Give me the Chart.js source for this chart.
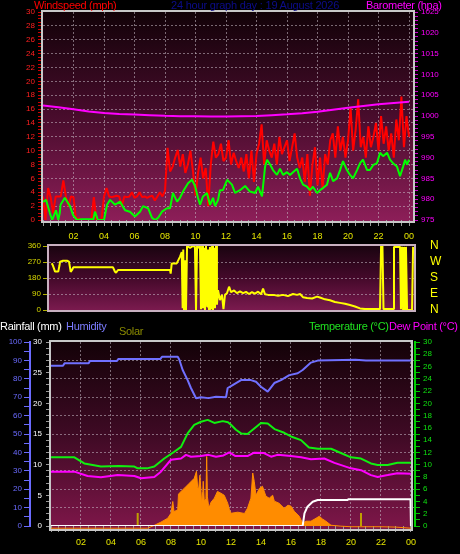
<!DOCTYPE html>
<html><head><meta charset="utf-8">
<script src="https://cdn.jsdelivr.net/npm/chart.js@4.4.0/dist/chart.umd.min.js"></script>
<style>
html,body{margin:0;padding:0;background:#000;width:460px;height:554px;overflow:hidden;}
canvas{position:absolute;left:0;}
.t{position:absolute;font-family:"Liberation Sans",Arial,sans-serif;font-size:11px;line-height:11px;white-space:nowrap;letter-spacing:-0.3px;z-index:5}
</style></head><body>
<canvas id="c1" width="460" height="244" style="top:0px"></canvas>
<canvas id="c2" width="460" height="90" style="top:232px"></canvas>
<canvas id="c3" width="460" height="238" style="top:316px"></canvas>
<div class="t" style="left:34px;top:0px;color:#ff0000">Windspeed (mph)</div>
<div class="t" style="left:171px;top:0px;color:#0c0c8a;letter-spacing:-0.2px">24 hour graph day : 19 August 2026</div>
<div class="t" style="left:366px;top:0px;color:#ff00ff">Barometer (hpa)</div>
<div class="t" style="left:0px;top:321px;color:#ffffff">Rainfall (mm)</div>
<div class="t" style="left:66px;top:321px;color:#7c7cff">Humidity</div>
<div class="t" style="left:119px;top:326px;color:#8a8a00">Solar</div>
<div class="t" style="left:309px;top:321px;color:#20e020">Temperature (°C)</div>
<div class="t" style="left:389px;top:321px;color:#ff00ff">Dew Point (°C)</div>
<script>
// ---------- DATA ----------
// Gust wind speed (mph), one value every 10 minutes from 00:00 to 24:00
const gustSpeed = [
 3.4,0,4.6,3.3,1.0,3.4,
 3.4,3.4,5.7,3.4,2.0,3.4,
 3.3,0,0.3,0,0,0,
 0,0,3.3,0,0,0,
 3.4,4.6,3.4,3.3,3.4,3.5,
 3.4,2.0,3.4,3.3,3.4,4.0,
 3.2,3.4,4.0,3.3,3.4,3.2,
 3.4,3.5,2.8,3.4,4.0,3.4,
 4.2,10.4,7.0,7.7,9.0,10.1,
 7.7,9.5,6.8,8.0,10.0,7.0,
 3.5,6.8,9.0,6.0,7.5,2.0,
 8.0,11.3,9.0,9.5,11.0,8.5,
 9.0,11.5,8.0,9.7,8.5,7.5,
 9.0,7.0,9.5,6.0,10.0,5.5,
 9.5,11.0,13.8,8.0,11.5,10.0,
 9.0,11.0,8.0,12.0,9.5,10.5,
 11.5,8.5,10.5,12.5,9.0,7.5,
 9.0,5.5,9.5,3.5,8.0,10.5,
 5.0,9.0,4.5,9.5,8.0,11.5,
 12.5,9.0,13.5,10.0,12.0,9.0,
 11.5,16.2,10.0,13.0,17.4,10.5,
 12.0,9.0,13.5,10.5,12.0,14.0,
 10.0,15.0,11.0,13.5,10.0,12.5,
 9.0,14.5,11.5,17.8,10.5,15.0,
 12.0];
const gustHours = gustSpeed.map((_, i) => i / 6);

// Average wind speed (mph)
const avgHours = [0,0.2,0.45,0.6,0.85,1.0,1.1,1.15,1.43,1.6,1.77,1.97,2.23,2.5,3.0,3.3,3.41,3.6,4.0,4.2,4.4,4.72,5.05,5.38,5.7,6.03,6.36,6.56,6.89,7.15,7.36,7.54,7.8,8.13,8.33,8.52,8.79,8.98,9.18,9.51,9.77,9.97,10.16,10.3,10.49,10.75,10.95,11.15,11.28,11.48,11.6,11.8,12.07,12.39,12.59,12.92,13.25,13.57,13.9,14.1,14.36,14.56,14.69,14.89,15.08,15.34,15.54,15.74,16.0,16.2,16.39,16.66,16.85,17.05,17.31,17.51,17.7,17.97,18.16,18.36,18.62,18.82,19.02,19.28,19.48,19.67,19.93,20.13,20.33,20.59,20.79,20.98,21.25,21.44,21.64,21.9,22.1,22.3,22.56,22.75,22.95,23.21,23.41,23.61,23.74,23.87,24.0];
const avgSpeed = [2.6,2.9,1.0,0.0,1.4,0.0,1.0,2.2,3.2,2.6,2.0,0.7,0.0,0.1,0.1,0.1,1.2,0.0,0.0,2.2,2.9,2.2,2.65,1.4,1.2,0.5,1.2,2.0,1.7,0.3,0.0,0.3,1.2,1.7,1.7,3.9,2.65,3.2,4.1,5.3,5.8,4.9,3.2,2.2,3.4,3.9,2.2,3.2,2.0,2.9,4.3,4.3,5.8,5.1,3.9,4.3,4.9,4.1,3.9,4.8,3.4,7.7,8.7,8.0,7.2,6.5,7.4,6.5,6.9,6.5,6.9,7.4,6.0,5.1,4.8,4.3,4.8,3.9,4.3,4.6,5.1,6.8,5.6,6.0,7.2,8.5,7.2,6.5,6.0,7.2,8.2,8.7,7.2,7.2,7.9,8.2,9.7,9.2,9.7,8.7,8.2,7.7,6.3,7.7,8.7,8.0,8.7];

// Barometer (hPa), hourly
const baroHours = [0,1,2,3,4,5,6,7,8,9,10,11,12,13,14,15,16,17,18,19,20,21,22,23,24];
const baroHpa = [1002.5,1002.1,1001.6,1001.1,1000.75,1000.5,1000.35,1000.2,1000.05,999.95,999.95,999.9,999.9,999.95,1000.0,1000.2,1000.4,1000.65,1001.0,1001.5,1002.0,1002.4,1002.8,1003.1,1003.4];

// Wind direction (degrees)
const dirHours = [0.18,0.26,0.40,0.61,0.69,0.73,0.92,1.19,1.32,1.43,1.52,1.60,4.22,4.35,4.42,4.55,7.98,8.02,8.09,8.42,8.64,8.75,8.81,8.85,8.90,8.97,9.03,9.10,9.30,9.49,9.62,9.69,9.76,9.89,9.95,10.02,10.09,10.15,10.22,10.28,10.35,10.42,10.48,10.55,10.61,10.68,10.75,10.81,10.88,10.94,11.01,11.07,11.14,11.27,11.40,11.50,11.60,11.73,11.87,12.00,12.20,12.39,12.59,12.79,12.99,13.18,13.38,13.58,13.78,13.98,14.11,14.24,14.44,14.77,15.10,15.43,15.75,16.08,16.35,16.55,16.74,17.01,17.34,17.67,17.86,18.19,18.52,18.85,19.18,19.51,19.84,20.17,20.50,20.83,21.16,21.49,21.82,21.89,21.98,22.05,22.35,22.68,22.74,23.14,23.20,23.27,23.34,23.40,23.47,23.53,23.60,23.67,23.93,24.0];
const dirDeg = [263,250,216,216,250,272,277,277,272,215,225,240,240,215,210,225,225,205,262,262,300,326,10,340,0,280,0,360,350,360,355,0,360,350,360,5,360,10,350,0,360,20,340,0,355,5,360,0,350,10,360,30,112,56,85,5,85,94,131,100,110,95,105,95,102,90,100,92,103,88,120,88,85,85,80,85,78,90,85,90,72,68,65,75,70,60,55,45,40,35,28,20,9,5,6,5,5,360,360,5,5,5,355,355,5,355,0,355,5,355,5,0,0,355];
const compassLabels = ['N','E','S','W','N'];

// Humidity (%)
const humHours = [0,0.8,0.9,2.5,2.6,4.4,4.5,7.3,7.4,8.45,8.55,8.78,9.11,9.33,9.67,10.0,10.5,11.0,11.67,11.78,12.0,12.67,13.33,13.67,14.0,14.45,14.89,15.33,15.89,16.45,16.78,17.33,17.78,20.3,21.0,24.0];
const humVals = [87.1,87.1,88.4,88.4,89.7,89.7,90.8,90.8,92.0,92.0,90.5,84.8,79.3,75.0,69.4,70.0,69.5,70.2,70.0,75.0,76.0,79.3,79.3,78.4,75.7,73.0,77.7,79.3,82.0,83.0,84.8,88.8,89.9,90.4,89.9,89.9];

// Temperature (°C)
const tempHours = [0,1.56,2.22,3.33,4.5,5.56,5.78,6.4,6.89,7.55,8.22,8.67,9.11,9.55,10.0,10.45,10.89,11.45,11.8,12.0,12.33,12.67,13.1,13.45,14.0,14.45,14.9,15.55,16.0,16.67,17.2,17.8,18.67,19.33,20.0,20.67,21.33,21.78,22.45,23.1,24.0];
const tempVals = [11.2,11.2,10.2,9.7,9.8,9.7,9.4,9.4,9.7,11.0,12.1,12.9,15.1,16.5,17.0,17.3,16.8,17.1,16.9,16.5,15.7,15.1,15.0,15.7,16.8,16.7,15.8,15.2,14.6,14.0,12.8,12.6,12.6,11.9,11.2,11.0,10.2,9.95,9.95,10.3,10.3];

// Dew point (°C)
const dewHours = [0,1.56,2.44,3.33,4.45,5.56,6.0,6.89,7.33,8.0,8.67,9.0,9.33,10.0,10.5,11.0,11.5,11.89,12.3,13.1,13.55,14.2,14.67,15.1,16.0,16.67,17.33,18.22,18.9,20.0,20.67,21.33,21.78,22.45,23.1,24.0];
const dewVals = [8.86,8.86,8.16,7.94,8.3,8.16,7.78,8.0,8.86,10.8,11.0,11.6,11.3,11.4,11.6,11.3,11.5,12.0,11.4,11.4,11.96,11.9,11.3,11.6,11.4,11.2,10.9,11.0,10.3,9.4,9.1,8.3,8.0,8.3,8.6,8.5];

// Rainfall (mm)
const rainHours = [0,16.78,16.9,17.1,17.45,17.78,19.78,19.8,23.97,24.0];
const rainVals = [0,0,2.07,3.15,3.96,4.24,4.24,4.35,4.35,0];

// Solar radiation (W/m²)
const solarHours = [0,6.45,6.9,7.33,7.78,8.0,8.12,8.2,8.45,8.5,8.55,8.89,9.22,9.55,9.7,9.78,9.85,9.93,10.0,10.04,10.12,10.15,10.22,10.33,10.38,10.43,10.5,10.55,10.67,10.89,11.1,11.33,11.55,11.78,11.9,12.0,12.45,12.9,13.1,13.33,13.45,13.55,13.67,13.9,14.1,14.33,14.55,14.78,14.89,15.2,15.55,15.8,16.0,16.22,16.55,16.78,17.0,17.33,17.67,17.89,18.1,18.33,18.67,19.33,20.0,21.0,22.0,23.0,24.0];
const solarVals = [0,0,16,33,54,81,145,90,100,185,190,217,244,271,309,220,217,288,200,136,200,255,147,160,390,170,125,114,141,163,200,190,179,136,100,81,87,80,108,163,300,255,179,217,228,174,163,179,147,136,108,125,120,92,65,27,38,38,54,65,50,38,16,11,8,8,8,6,0];

// Sunrise / sunset markers
const sunMarkHours = [5.78, 20.67];
const sunMarkHeight = [82, 82];

// ---------- HELPERS ----------
const FONT = '"Liberation Sans", Arial, sans-serif';
Chart.defaults.font.family = FONT;
const GRID = 'rgba(200,190,200,0.55)';
const NONE = 'rgba(0,0,0,0)';
function pts(xs, ys) { return xs.map((x, i) => ({x: x, y: ys[i]})); }
const markerPts = [];
sunMarkHours.forEach((h, i) => { markerPts.push({x: h, y: 0}, {x: h, y: sunMarkHeight[i]}, {x: h, y: null}); });

const panelPlugin = {
  id: 'panelBg',
  beforeDraw(chart, args, o) {
    const {ctx, chartArea: a} = chart;
    const r = a.right + (o.rOff || 0);
    ctx.save();
    const g = ctx.createLinearGradient(0, a.top, 0, a.bottom);
    g.addColorStop(0, o.c0); g.addColorStop(0.5, o.c1); g.addColorStop(1, o.c2);
    ctx.fillStyle = g;
    ctx.fillRect(a.left, a.top, r - a.left, a.bottom - a.top + (o.bOff || 0));
    ctx.restore();
  },
  afterDraw(chart, args, o) {
    const {ctx, chartArea: a} = chart;
    const r = a.right + (o.rOff || 0);
    ctx.save();
    ctx.strokeStyle = o.frame; ctx.lineWidth = 2;
    ctx.strokeRect(a.left - 1, a.top - 1, r - a.left + 2, a.bottom - a.top + 1 + (o.bOff || 0));
    ctx.restore();
  }
};

function xAxis(max, height, show) {
  return {
    type: 'linear', position: 'bottom', min: 0, max: max, display: show,
    afterFit: s => { s.height = height; },
    ticks: { stepSize: 0.5, autoSkip: false, includeBounds: false, maxRotation: 0, color: '#e6e600',
      font: {size: 9}, padding: 5,
      callback: v => (v > 0 && v % 2 === 0) ? String(v % 24).padStart(2, '0') : '' },
    grid: { color: c => (c.tick && c.tick.value % 2 === 0 && c.tick.value > 0) ? GRID : NONE,
      tickColor: '#9a9a9a', tickLength: 6, lineWidth: 1, tickBorderDash: [] },
    border: { display: false, dash: [2, 2] }
  };
}
const common = {
  responsive: false, animation: false, devicePixelRatio: 1,
  elements: { point: {radius: 0, hoverRadius: 0}, line: {tension: 0, borderJoinStyle: 'bevel'} },
  events: []
};

// ---------- PANEL 1 : wind speed + barometer ----------
new Chart(document.getElementById('c1'), {
  type: 'line',
  data: { datasets: [
    {label: 'Average wind', data: pts(avgHours, avgSpeed), yAxisID: 'yWind', borderColor: '#00ff00', borderWidth: 2, order: 0},
    {label: 'Barometer', data: pts(baroHours, baroHpa), yAxisID: 'yBaro', borderColor: '#ff00ff', borderWidth: 2, order: 1},
    {label: 'Gust', data: pts(gustHours, gustSpeed), yAxisID: 'yWind', borderColor: '#ff0000', borderWidth: 2, order: 2}
  ]},
  options: Object.assign({}, common, {
    layout: {padding: {top: 12, left: 0, right: 0, bottom: 0}},
    plugins: { legend: {display: false}, tooltip: {enabled: false},
      panelBg: {c0: '#120208', c1: '#480c2c', c2: '#8c1e58', frame: '#c8c8c8', rOff: 0, bOff: 2} },
    scales: {
      x: xAxis(24.26, 24, true),
      yWind: { position: 'left', min: 0, max: 30, afterFit: s => { s.width = 43; },
        ticks: { stepSize: 0.5, autoSkip: false, color: '#ff2020', font: {size: 8}, padding: 3,
          callback: v => (v % 2 === 0) ? v : '' },
        grid: { color: c => (c.tick && c.tick.value % 2 === 0 && c.tick.value > 0 && c.tick.value < 30) ? GRID : NONE,
          tickColor: '#cc0000', tickLength: 5, tickBorderDash: [] },
        border: { display: false, dash: [2, 2] } },
      yBaro: { position: 'right', min: 975, max: 1025, afterFit: s => { s.width = 47; },
        ticks: { stepSize: 1, autoSkip: false, color: '#ff00ff', font: {size: 8}, padding: 3,
          callback: v => (v % 5 === 0) ? v : '' },
        grid: { drawOnChartArea: false, tickColor: '#cc00cc', tickLength: 5 },
        border: { display: false } }
    }
  }),
  plugins: [panelPlugin]
});

// ---------- PANEL 2 : wind direction ----------
new Chart(document.getElementById('c2'), {
  type: 'line',
  data: { datasets: [
    {label: 'Wind direction', data: pts(dirHours, dirDeg), yAxisID: 'yDir', borderColor: '#ffff00', borderWidth: 2}
  ]},
  options: Object.assign({}, common, {
    layout: {padding: {top: 14, left: 0, right: 0, bottom: 12}},
    plugins: { legend: {display: false}, tooltip: {enabled: false},
      panelBg: {c0: '#1a0410', c1: '#44092a', c2: '#7a1a4e', frame: '#c8b0c0', rOff: 0, bOff: 1} },
    scales: {
      x: { type: 'linear', min: 0, max: 24.06, display: false },
      yDir: { position: 'left', min: 0, max: 360, afterFit: s => { s.width = 49; },
        ticks: { stepSize: 90, autoSkip: false, color: '#d8d800', font: {size: 8}, padding: 2 },
        grid: { color: c => (c.tick && c.tick.value > 0 && c.tick.value < 360) ? GRID : NONE,
          tickColor: '#b0b000', tickLength: 6, tickBorderDash: [] },
        border: { display: false, dash: [2, 2] } },
      yDirR: { position: 'right', min: 0, max: 360, afterFit: s => { s.width = 46; },
        ticks: { stepSize: 90, autoSkip: false, color: '#ffff00', font: {size: 12}, padding: 0,
          callback: v => compassLabels[Math.round(v / 90)] },
        grid: { drawOnChartArea: false, drawTicks: true, tickLength: 16, tickColor: NONE },
        border: { display: false } }
    }
  }),
  plugins: [panelPlugin]
});

// ---------- PANEL 3 : rain, humidity, solar, temperature, dew point ----------
new Chart(document.getElementById('c3'), {
  type: 'line',
  data: { datasets: [
    {label: 'Rainfall', data: pts(rainHours, rainVals), yAxisID: 'yRain', borderColor: '#ffffff', borderWidth: 2, order: 0},
    {label: 'Humidity', data: pts(humHours, humVals), yAxisID: 'yHum', borderColor: '#7070ff', borderWidth: 2, order: 1},
    {label: 'Temperature', data: pts(tempHours, tempVals), yAxisID: 'yTemp', borderColor: '#10f010', borderWidth: 2, order: 2},
    {label: 'Dew Point', data: pts(dewHours, dewVals), yAxisID: 'yTemp', borderColor: '#ff00ff', borderWidth: 2, order: 3},
    {label: 'Sun', data: markerPts, yAxisID: 'ySolar', borderColor: '#c0a000', borderWidth: 2, spanGaps: false, order: 4},
    {label: 'Solar', data: pts(solarHours, solarVals), yAxisID: 'ySolar', borderColor: '#ff8c00', backgroundColor: '#ff8c00',
      borderWidth: 1, fill: 'origin', clip: 6, order: 5}
  ]},
  options: Object.assign({}, common, {
    layout: {padding: {top: 26, left: 0, right: 0, bottom: 0}},
    plugins: { legend: {display: false}, tooltip: {enabled: false},
      panelBg: {c0: '#140208', c1: '#3e0a24', c2: '#7c1648', frame: '#c8c8c8', rOff: -4, bOff: 4} },
    scales: {
      x: xAxis(24.27, 28, true),
      yHum: { position: 'left', weight: 1, min: 0, max: 100, afterFit: s => { s.width = 30; },
        ticks: { stepSize: 5, autoSkip: false, color: '#6b6bff', font: {size: 8}, padding: 2,
          callback: v => (v % 10 === 0) ? v : '' },
        grid: { color: c => (c.tick && c.tick.value % 10 === 0 && c.tick.value > 0 && c.tick.value < 100) ? GRID : NONE,
          tickColor: '#6b6bff', tickLength: 6, tickBorderDash: [] },
        border: { display: true, color: '#6b6bff', width: 2, dash: [2, 2] } },
      yRain: { position: 'left', weight: 0, min: 0, max: 30, afterFit: s => { s.width = 21; },
        ticks: { stepSize: 1, autoSkip: false, color: '#ffffff', font: {size: 8}, padding: 4,
          callback: v => (v % 5 === 0) ? v : '' },
        grid: { drawOnChartArea: false, tickColor: '#9a9a9a', tickLength: 5 },
        border: { display: false } },
      yTemp: { position: 'right', min: 0, max: 30, afterFit: s => { s.width = 45; },
        ticks: { stepSize: 1, autoSkip: false, color: '#10e010', font: {size: 8}, padding: 3,
          callback: v => (v % 2 === 0) ? v : '' },
        grid: { drawOnChartArea: false, tickColor: '#00c000', tickLength: 5 },
        border: { display: true, color: '#00d000', width: 2 } },
      ySolar: { display: false, min: 12, max: 1012 }
    }
  }),
  plugins: [panelPlugin]
});
</script>
</body></html>
